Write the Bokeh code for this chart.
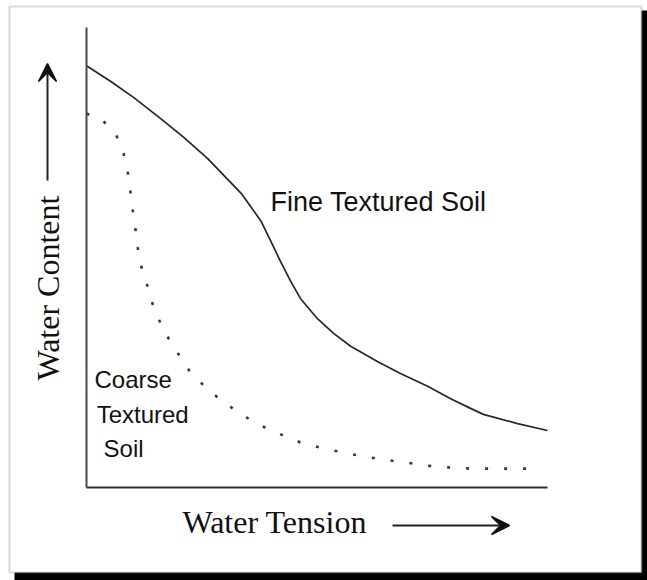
import math
from bokeh.plotting import figure
from bokeh.models import Range1d, Label, Arrow, VeeHead, BoxAnnotation
from bokeh.embed import file_html
from bokeh.resources import INLINE

# ---- data (relative units, 0-100 on both axes) ----
fine_tension = [0, 5.2, 10.2, 16.1, 21.1, 26.3, 30.2, 33.6, 35.6, 37.8, 39.9, 42.1,
                44.3, 46.4, 50.1, 53.6, 57.3, 63.1, 68.1, 74.0, 79.0, 83.3, 86.1, 93.5, 100]
fine_content = [91.7, 88.3, 84.8, 80.2, 76.1, 71.5, 67.4, 63.9, 61.1, 58.0, 53.7, 49.1,
                44.8, 41.1, 36.7, 33.5, 30.7, 27.4, 24.8, 22.0, 19.3, 17.2, 15.9, 13.9, 12.4]

coarse_tension = [0, 3.5, 6.5, 8.0, 8.9, 9.5, 10.0, 10.6, 11.1, 11.9, 13.2, 14.3, 15.8,
                  17.8, 20.0, 22.3, 25.2, 28.4, 31.7, 35.1, 38.8, 42.7, 46.4, 50.5, 54.7,
                  58.8, 63.0, 67.0, 70.9, 75.1, 79.4, 83.5, 87.6, 91.8, 96.1]
coarse_content = [81.3, 79.8, 76.5, 72.8, 68.9, 64.6, 60.4, 56.3, 52.2, 48.0, 43.9, 40.0,
                  36.3, 32.4, 28.9, 25.4, 22.4, 19.6, 17.2, 15.0, 13.0, 11.3, 9.8, 8.7,
                  7.8, 7.0, 6.3, 5.7, 5.2, 4.6, 4.3, 4.1, 4.1, 4.1, 4.1]

x_title = "Water Tension"
y_title = "Water Content"
fine_label = "Fine Textured Soil"
coarse_label = ["Coarse", "Textured", "Soil"]

W, H = 647, 580
# axes area: x 0..100 -> px 86..547, y 0..100 -> px 487..27
SX, SY = 4.61, 4.6
x0_px, y0_px = 86, 487
p = figure(width=W, height=H, output_backend="svg", toolbar_location=None,
           x_range=Range1d(-x0_px / SX, (W - x0_px) / SX),
           y_range=Range1d(-(H - y0_px) / SY, y0_px / SY),
           min_border=0)
p.grid.visible = False
p.outline_line_color = None
p.background_fill_color = "white"
p.border_fill_color = "white"
for ax in (p.xaxis[0], p.yaxis[0]):
    ax.fixed_location = 0
    ax.bounds = (0, 100)
    ax.ticker = []
    ax.major_tick_line_color = None
    ax.minor_tick_line_color = None
    ax.major_label_text_font_size = "0px"
    ax.axis_line_width = 2
p.xaxis[0].axis_line_color = "#2e2e2e"
p.yaxis[0].axis_line_color = "#4a4a4a"

# outer frame with drop shadow (canvas units)
cu = dict(left_units="canvas", right_units="canvas", top_units="canvas", bottom_units="canvas")
p.add_layout(BoxAnnotation(left=14, right=647, top=10, bottom=580, fill_color="black",
                           fill_alpha=1.0, line_color=None, level="underlay", **cu))
p.add_layout(BoxAnnotation(left=9, right=641, top=6, bottom=572, fill_color="white",
                           fill_alpha=1.0, line_color="#808080", line_width=2,
                           level="underlay", **cu))

# curves
p.line(fine_tension, fine_content, line_color="#262626", line_width=1.7,
       line_join="round")
p.line(coarse_tension, coarse_content, line_color="#383838", line_width=2.6,
       line_dash="3 16")


def base_off(size):
    # rendered alphabetic baseline sits lower than the anchor; compensate (px)
    return 0.37 * size


# curve labels
fs = 27
p.add_layout(Label(x=39.9, y=59.8 + base_off(fs) / SY, text=fine_label,
                   text_font="Liberation Sans", text_font_size=f"{fs}px",
                   text_color="#111111", text_baseline="alphabetic", text_align="left"))
cs = 24
for t, dx, by in zip(coarse_label, [1.74, 2.2, 3.7], [21.5, 13.9, 6.5]):
    p.add_layout(Label(x=dx, y=by + base_off(cs) / SY, text=t, text_font="Liberation Sans",
                       text_font_size=f"{cs}px", text_color="#111111",
                       text_baseline="alphabetic", text_align="left"))

# axis titles with arrows (canvas units, y from top)
ts = 32
p.add_layout(Label(x=182, y=533 - base_off(ts), x_units="canvas", y_units="canvas",
                   text=x_title, text_font="Liberation Serif", text_font_size=f"{ts}px",
                   text_color="#111111", text_baseline="alphabetic", text_align="left"))
p.add_layout(Label(x=59 - base_off(ts), y=380, x_units="canvas", y_units="canvas",
                   text=y_title, angle=math.pi / 2,
                   text_font="Liberation Serif", text_font_size=f"{ts}px",
                   text_color="#111111", text_baseline="alphabetic", text_align="left"))
p.add_layout(Arrow(x_start=392, y_start=525, x_end=509, y_end=525,
                   start_units="canvas", end_units="canvas",
                   end=VeeHead(size=18, fill_color="#111111", line_color="#111111",
                               line_width=1.5),
                   line_color="#222222", line_width=2))
p.add_layout(Arrow(x_start=47, y_start=180, x_end=47, y_end=63,
                   start_units="canvas", end_units="canvas",
                   end=VeeHead(size=18, fill_color="#111111", line_color="#111111",
                               line_width=1.5),
                   line_color="#222222", line_width=2))

open("out.html", "w").write(file_html(p, INLINE))
